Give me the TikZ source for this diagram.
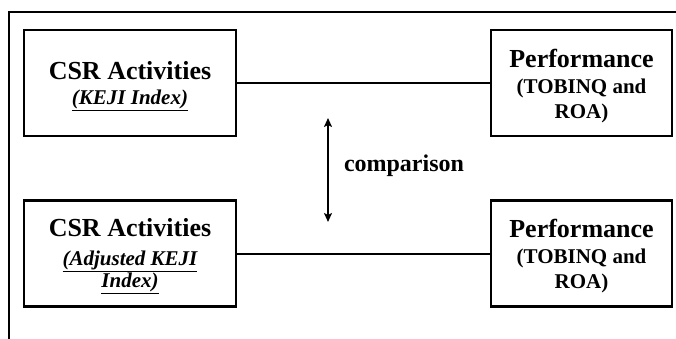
\documentclass[tikz,border=0pt]{standalone}
\usepackage{fontspec}
\setmainfont{Liberation Serif}
\usetikzlibrary{arrows, arrows.meta, positioning}

\newcommand{\headline}[1]{{\fontsize{26}{27}\selectfont\rule{0pt}{24pt}#1}}

\begin{document}
\begin{tikzpicture}[x=1pt, y=-1pt]
\tikzstyle{box}=[rectangle, draw=black, line width=2.2pt, minimum height=106pt, align=center, inner sep=0pt, font=\bfseries\fontsize{21}{25}\selectfont]
\tikzstyle{csrbox}=[box, minimum width=212pt]
\tikzstyle{perfbox}=[box, minimum width=181pt]
\tikzstyle{connect}=[-, line width=2pt]
\tikzstyle{compare}=[{Stealth[length=9pt, width=8pt, inset=2pt]}-{Stealth[length=9pt, width=8pt, inset=2pt]}, line width=2pt]
\useasboundingbox (0,0) rectangle (676,339);
% outer frame, only its top and left sides are in view
\draw[line width=2.2pt] (9,339) -- (9,12) -- (676,12);
\node[csrbox] (csr1) at (130, 83) {\headline{CSR Activities}\\ \itshape\underline{(KEJI Index)}};
\node[perfbox] (perf1) at (581.5, 83) {\headline{Performance}\\[1pt] (TOBINQ and\\ ROA)};
\node[csrbox] (csr2) at (130, 253.5) {\headline{CSR Activities}\\[4pt] \itshape\underline{(Adjusted KEJI}\\[-3pt] \itshape\underline{Index)}};
\node[perfbox] (perf2) at (581.5, 253.5) {\headline{Performance}\\[1pt] (TOBINQ and\\ ROA)};
\path (csr1) edge [connect] (perf1);
\path (csr2) edge [connect] (perf2);
\coordinate (up) at (328, 118);
\coordinate (down) at (328, 222);
\draw[compare] (up) -- (down);
\node[font=\bfseries\fontsize{24}{24}\selectfont] (cmp) at (404, 166) {comparison};
\end{tikzpicture}
\end{document}
